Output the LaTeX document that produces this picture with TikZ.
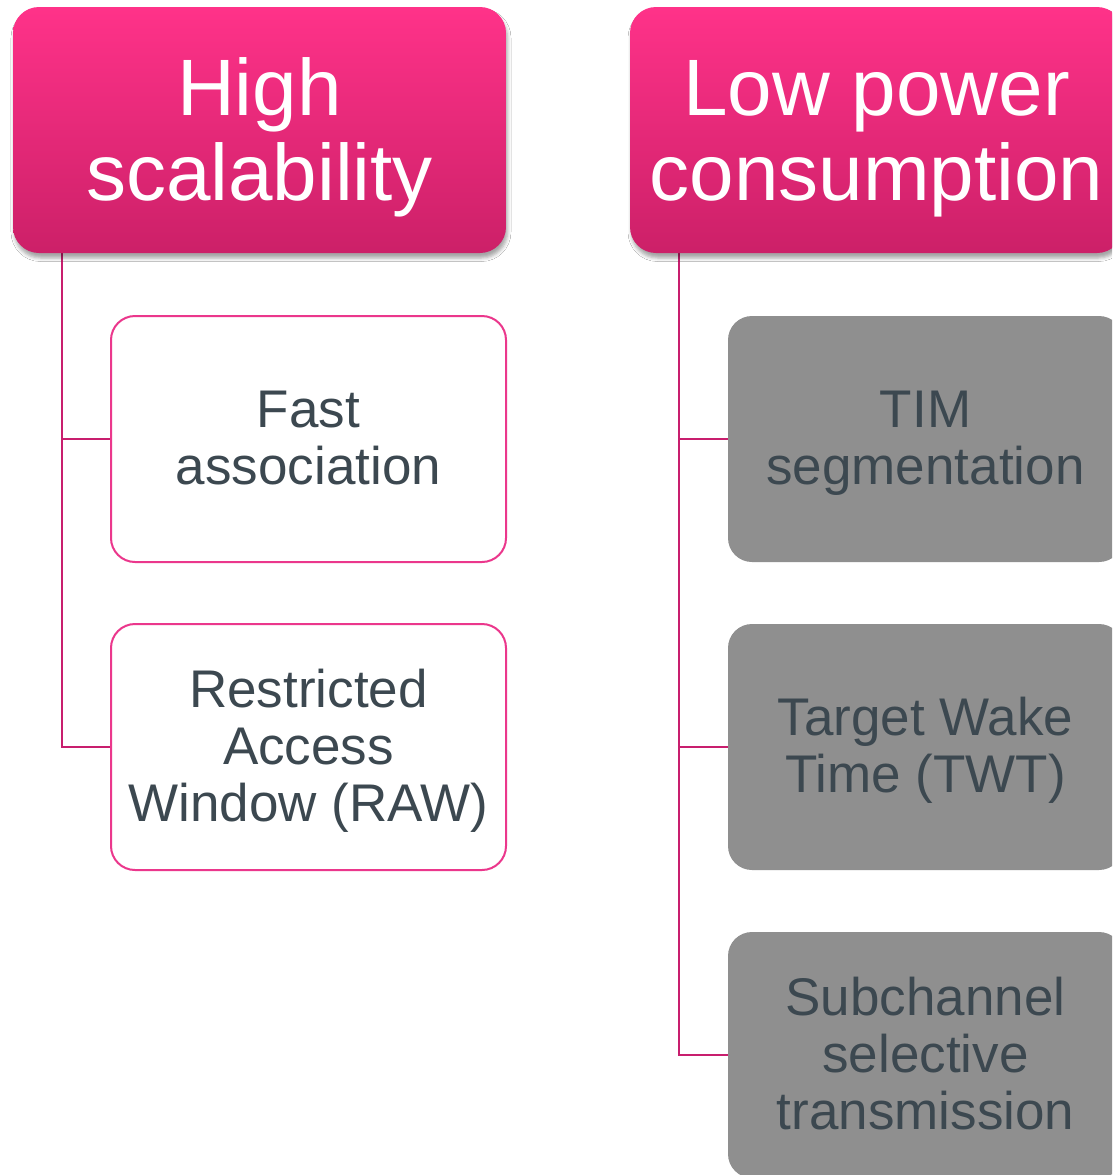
\documentclass[tikz,border=0pt]{standalone}
\usepackage{fontspec}
\setmainfont{Liberation Sans}
\usetikzlibrary{shadows.blur,calc}
\definecolor{hdtop}{RGB}{255,50,137}
\definecolor{hdbot}{RGB}{204,32,104}
\definecolor{connc}{RGB}{200,30,110}
\definecolor{edgec}{RGB}{235,55,140}
\definecolor{ink}{RGB}{60,72,80}
\definecolor{slate}{RGB}{143,143,143}
% centred lines whose baseline is that of the first line
\newcommand\stacklines[1]{\begin{tabular}[t]{@{}c@{}}#1\end{tabular}}
\begin{document}
\begin{tikzpicture}[x=1pt,y=-1pt,
  header/.style={rounded corners=26pt, top color=hdtop, bottom color=hdbot,
    draw=none, minimum width=493pt, minimum height=246pt, inner sep=0pt,
    blur shadow={shadow xshift=1.5pt, shadow yshift=-5pt,
      shadow blur radius=3.5pt, shadow opacity=35}},
  headtext/.style={anchor=base, inner sep=0pt, text=white,
    font=\fontsize{80}{85.7}\selectfont},
  leaf/.style={rounded corners=24pt, minimum width=395pt, minimum height=246pt,
    inner sep=0pt},
  leaftext/.style={anchor=base, inner sep=0pt, text=ink,
    font=\fontsize{53}{57}\selectfont},
  pinkleaf/.style={leaf, draw=edgec, line width=2pt, fill=white},
  grayleaf/.style={leaf, fill=slate, draw=none},
  link/.style={draw=connc, line width=2pt}]
\useasboundingbox (0,0) rectangle (1112,1175);
\clip (0,0) rectangle (1112,1175);
\fill[white] (0,0) rectangle (1112,1175);

% branch points under the two headers
\coordinate (t1) at (62,253);
\coordinate (t2) at (679,253);

% leaf boxes
\node[pinkleaf] (c1) at (308.5,439) {};
\node[pinkleaf] (c2) at (308.5,747) {};
\node[grayleaf] (g1) at (925.5,439) {};
\node[grayleaf] (g2) at (925.5,747) {};
\node[grayleaf] (g3) at (925.5,1055) {};

% leaf labels, first baseline set from the box centre
\node[leaftext] (c1t) at ($(c1.center)+(0,-11.5)$) {\stacklines{Fast\\association}};
\node[leaftext] (c2t) at ($(c2.center)+(0,-40)$) {\stacklines{Restricted\\Access\\Window (RAW)}};
\node[leaftext] (g1t) at ($(g1.center)+(0,-11.5)$) {\stacklines{TIM\\segmentation}};
\node[leaftext] (g2t) at ($(g2.center)+(0,-11.5)$) {\stacklines{Target Wake\\Time (TWT)}};
\node[leaftext] (g3t) at ($(g3.center)+(0,-40)$) {\stacklines{Subchannel\\selective\\transmission}};

% tree connectors
\draw[link] (t1) |- (c1.west);
\draw[link] (t1) |- (c2.west);
\draw[link] (t2) |- (g1.west);
\draw[link] (t2) |- (g2.west);
\draw[link] (t2) |- (g3.west);

% category headers
\node[header] (h1) at (259.5,130) {};
\node[header] (h2) at (876.5,130) {};
\node[headtext] (h1t) at ($(h1.center)+(0,-15)$) {\stacklines{High\\scalability}};
\node[headtext] (h2t) at ($(h2.center)+(0,-15)$) {\stacklines{Low power\\consumption}};
\end{tikzpicture}
\end{document}
